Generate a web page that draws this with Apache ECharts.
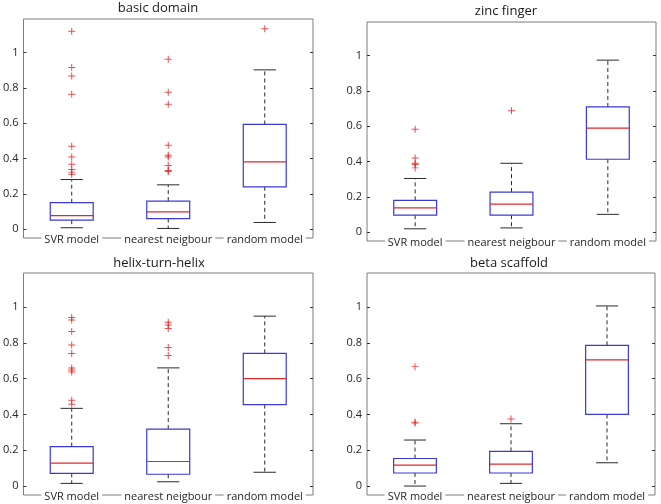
<!DOCTYPE html>
<html>
<head>
<meta charset="utf-8">
<script src="https://cdn.jsdelivr.net/npm/echarts@6/dist/echarts.min.js"></script>
<style>html,body{margin:0;padding:0;background:#fff}#chart{width:661px;height:504px}</style>
</head>
<body>
<div id="chart"></div>
<script>
// ---------- data ----------
const categories = ['SVR model', 'nearest neigbour', 'random model'];
const panelTitles = ['basic domain', 'zinc finger', 'helix-turn-helix', 'beta scaffold'];
const yTickValues = [0, 0.2, 0.4, 0.6, 0.8, 1];

// each box: [lower whisker, Q1, median, Q3, upper whisker] per category
const basicDomainBoxes = [
  [0.008, 0.051, 0.077, 0.150, 0.281],
  [0.004, 0.060, 0.098, 0.159, 0.251],
  [0.038, 0.240, 0.381, 0.593, 0.902]
];
const basicDomainOutliers = [
  [0, 1.12], [0, 0.915], [0, 0.867], [0, 0.764], [0, 0.469], [0, 0.409], [0, 0.368], [0, 0.338], [0, 0.323], [0, 0.311],
  [1, 0.962], [1, 0.775], [1, 0.707], [1, 0.475], [1, 0.418], [1, 0.409], [1, 0.360], [1, 0.332], [1, 0.326],
  [2, 1.135]
];
const zincFingerBoxes = [
  [0.019, 0.096, 0.137, 0.180, 0.304],
  [0.024, 0.096, 0.159, 0.227, 0.390],
  [0.101, 0.413, 0.589, 0.709, 0.974]
];
const zincFingerOutliers = [
  [0, 0.583], [0, 0.420], [0, 0.390], [0, 0.383], [0, 0.364],
  [1, 0.687]
];
const helixTurnHelixBoxes = [
  [0.015, 0.071, 0.128, 0.220, 0.434],
  [0.024, 0.066, 0.137, 0.318, 0.660],
  [0.077, 0.455, 0.600, 0.741, 0.949]
];
const helixTurnHelixOutliers = [
  [0, 0.942], [0, 0.927], [0, 0.863], [0, 0.788], [0, 0.741], [0, 0.660], [0, 0.648], [0, 0.637], [0, 0.479], [0, 0.457],
  [1, 0.915], [1, 0.900], [1, 0.880], [1, 0.774], [1, 0.729]
];
const betaScaffoldBoxes = [
  [0.000, 0.073, 0.117, 0.154, 0.257],
  [0.015, 0.073, 0.122, 0.194, 0.348],
  [0.130, 0.400, 0.705, 0.786, 1.006]
];
const betaScaffoldOutliers = [
  [0, 0.667], [0, 0.357], [0, 0.352],
  [1, 0.374]
];

const panelBoxes = [basicDomainBoxes, zincFingerBoxes, helixTurnHelixBoxes, betaScaffoldBoxes];
const panelOutliers = [basicDomainOutliers, zincFingerOutliers, helixTurnHelixOutliers, betaScaffoldOutliers];

// ---------- layout ----------
const grids = [
  { left: 21, top: 19, width: 292, height: 219 },
  { left: 367, top: 22, width: 289, height: 219 },
  { left: 21, top: 273, width: 292, height: 222 },
  { left: 367, top: 273, width: 288, height: 222 }
];
const titlePos = [[158, 8], [506, 11], [159, 263], [509, 263]];
const Y_MIN = -0.05, Y_MAX = 1.19;

const FONT = '"Open Sans", "Noto Sans", sans-serif';
const FRAME = '#7c7c7c';
const BOX_COLOR = '#3a3ad4';
const MED_COLOR = '#e02828';
const WHISK_COLOR = '#2a2a2a';
const PLUS = 'path://M4.3,0h1.4v4.3h4.3v1.4h-4.3v4.3h-1.4v-4.3h-4.3v-1.4h4.3z';

const xAxes = [], yAxes = [], series = [], graphics = [];
grids.forEach((g, i) => {
  xAxes.push({
    type: 'category', gridIndex: i, data: categories, position: 'bottom', z: 5,
    axisLine: { show: false },
    axisTick: { show: false },
    axisLabel: {
      show: true, margin: 2, verticalAlign: 'middle', fontSize: 11, fontFamily: FONT, color: '#262626',
      backgroundColor: '#ffffff', padding: [1, 3, 1, 3], interval: 0
    },
    splitLine: { show: false }
  });
  yAxes.push({
    type: 'value', gridIndex: i, min: Y_MIN, max: Y_MAX, position: 'left',
    axisLine: { show: false },
    axisTick: { show: true, inside: true, length: 3, customValues: yTickValues, lineStyle: { color: '#333' } },
    axisLabel: { show: true, customValues: yTickValues, margin: 5, fontSize: 11, fontFamily: FONT, color: '#262626' },
    splitLine: { show: false }
  });
  yAxes.push({
    type: 'value', gridIndex: i, min: Y_MIN, max: Y_MAX, position: 'right',
    axisLine: { show: false },
    axisTick: { show: true, inside: true, length: 3, customValues: yTickValues, lineStyle: { color: '#333' } },
    axisLabel: { show: false },
    splitLine: { show: false }
  });

  const boxData = panelBoxes[i].map((b, k) => [k].concat(b));
  series.push({
    type: 'custom',
    xAxisIndex: i, yAxisIndex: 2 * i,
    data: boxData,
    encode: { x: 0, y: [1, 2, 3, 4, 5] },
    renderItem: function (params, api) {
      const c = api.value(0);
      const pLow = api.coord([c, api.value(1)]);
      const pQ1 = api.coord([c, api.value(2)]);
      const pMed = api.coord([c, api.value(3)]);
      const pQ3 = api.coord([c, api.value(4)]);
      const pHigh = api.coord([c, api.value(5)]);
      const bw = api.size([1, 0])[0] * 0.445;
      const cw = bw * 0.52;
      const x = pQ1[0];
      const dashStyle = { stroke: WHISK_COLOR, lineWidth: 1, lineDash: [4, 3], fill: null };
      const capStyle = { stroke: WHISK_COLOR, lineWidth: 1, fill: null };
      return {
        type: 'group',
        children: [
          { type: 'line', shape: { x1: x, y1: pQ3[1], x2: x, y2: pHigh[1] }, style: dashStyle },
          { type: 'line', shape: { x1: x, y1: pQ1[1], x2: x, y2: pLow[1] }, style: dashStyle },
          { type: 'line', shape: { x1: x - cw / 2, y1: pHigh[1], x2: x + cw / 2, y2: pHigh[1] }, style: capStyle },
          { type: 'line', shape: { x1: x - cw / 2, y1: pLow[1], x2: x + cw / 2, y2: pLow[1] }, style: capStyle },
          { type: 'rect', shape: { x: x - bw / 2, y: pQ3[1], width: bw, height: pQ1[1] - pQ3[1] },
            style: { stroke: BOX_COLOR, lineWidth: 1.2, fill: 'rgba(0,0,0,0)' } },
          { type: 'line', shape: { x1: x - bw / 2, y1: pMed[1], x2: x + bw / 2, y2: pMed[1] },
            style: { stroke: MED_COLOR, lineWidth: 1.2 } }
        ]
      };
    },
    silent: true
  });
  series.push({
    type: 'scatter',
    xAxisIndex: i, yAxisIndex: 2 * i,
    data: panelOutliers[i],
    symbol: PLUS, symbolSize: 7,
    itemStyle: { color: '#e02020' },
    silent: true
  });

  graphics.push({
    type: 'text', x: titlePos[i][0], y: titlePos[i][1],
    style: { text: panelTitles[i], fontSize: 13, fontFamily: FONT, fill: '#1a1a1a', align: 'center', verticalAlign: 'middle' }
  });
});

const chart = echarts.init(document.getElementById('chart'), null, { renderer: 'canvas' });
chart.setOption({
  animation: false,
  backgroundColor: '#fff',
  grid: grids.map(g => Object.assign({ containLabel: false, show: true, borderColor: FRAME, borderWidth: 1, backgroundColor: 'transparent', z: 0 }, g)),
  xAxis: xAxes,
  yAxis: yAxes,
  series: series,
  graphic: graphics
});
</script>
</body>
</html>
